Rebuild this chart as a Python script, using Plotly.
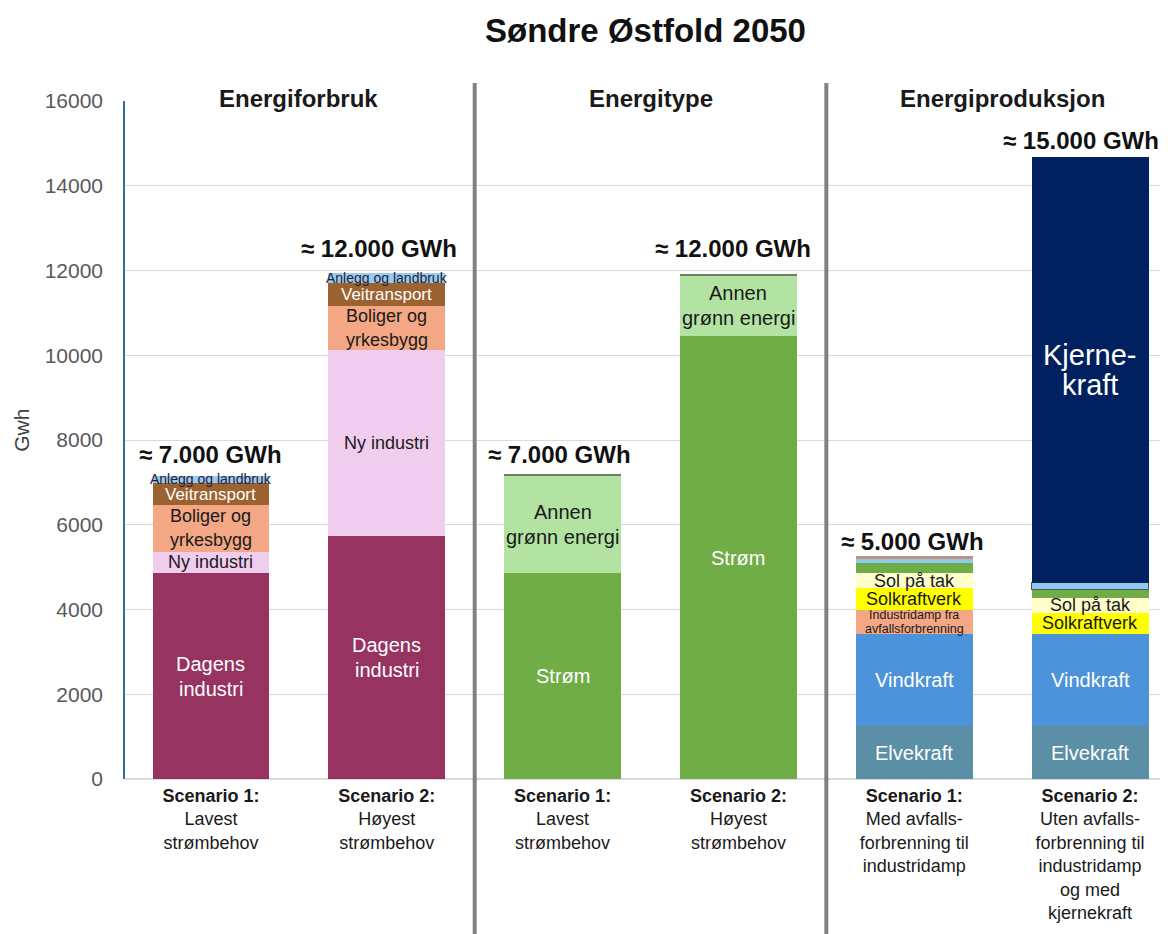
import plotly.graph_objects as go

# ---------------- data ----------------
x_pos = [0, 1, 2, 3, 4, 5]
tick_labels = [
    "<b>Scenario 1:</b><br>Lavest<br>strømbehov",
    "<b>Scenario 2:</b><br>Høyest<br>strømbehov",
    "<b>Scenario 1:</b><br>Lavest<br>strømbehov",
    "<b>Scenario 2:</b><br>Høyest<br>strømbehov",
    "<b>Scenario 1:</b><br>Med avfalls-<br>forbrenning til<br>industridamp",
    "<b>Scenario 2:</b><br>Uten avfalls-<br>forbrenning til<br>industridamp<br>og med<br>kjernekraft",
]
total_labels = ["≈ 7.000 GWh", "≈ 12.000 GWh", "≈ 7.000 GWh",
                "≈ 12.000 GWh", "≈ 5.000 GWh", "≈ 15.000 GWh"]
section_titles = ["Energiforbruk", "Energitype", "Energiproduksjon"]
section_x = [0.5, 2.5, 4.5]
separator_x = [1.5, 3.5]
y_title = "Gwh"

# Energiforbruk
dagens_industri = [4860, 5740, None, None, None, None]
ny_industri     = [500, 4385, None, None, None, None]
boliger         = [1105, 1040, None, None, None, None]
veitransport    = [515, 540, None, None, None, None]
anlegg          = [180, 235, None, None, None, None]
# Energitype
strom           = [None, None, 4860, 10450, None, None]
annen_gronn     = [None, None, 2300, 1440, None, None]
annet_type      = [None, None, 25, 25, None, None]
# Energiproduksjon
elvekraft       = [None, None, None, None, 1250, 1250]
vindkraft       = [None, None, None, None, 2170, 2170]
industridamp    = [None, None, None, None, 570, None]
solkraftverk    = [None, None, None, None, 515, 500]
sol_pa_tak      = [None, None, None, None, 355, 350]
bio             = [None, None, None, None, 235, 190]
annen_prod      = [None, None, None, None, 120, 165]
rest_prod       = [None, None, None, None, 45, None]
kjernekraft     = [None, None, None, None, None, 10050]

# (name, values, color, segment labels, label color, label size, border widths, line gap px)
series = [
    ("Dagens industri", dagens_industri, "#963361",
     ["Dagens<br>industri", "Dagens<br>industri", None, None, None, None], "white", 20, 0, 25),
    ("Ny industri", ny_industri, "#F0CDEE",
     ["Ny industri", "Ny industri", None, None, None, None], "#1a1a1a", 18, 0, None),
    ("Boliger og yrkesbygg", boliger, "#F3A784",
     ["Boliger og<br>yrkesbygg", "Boliger og<br>yrkesbygg", None, None, None, None], "#1a1a1a", 18, 0, 24),
    ("Veitransport", veitransport, "#9C6330",
     ["Veitransport", "Veitransport", None, None, None, None], "white", 17, 0, None),
    ("Anlegg og landbruk", anlegg, "#9DC9EC",
     ["Anlegg og landbruk", "Anlegg og landbruk", None, None, None, None], "#1a2340", 14, 0, None),
    ("Strøm", strom, "#70AD47",
     [None, None, "Strøm", "Strøm", None, None], "white", 20, 0, None),
    ("Annen grønn energi", annen_gronn, "#B3E3A2",
     [None, None, "Annen<br>grønn energi", "Annen<br>grønn energi", None, None], "#1a1a1a", 20, 0, 25),
    ("Annet", annet_type, "#6E7F66",
     [None] * 6, "#1a1a1a", 12, 0, None),
    ("Elvekraft", elvekraft, "#5A8FA6",
     [None, None, None, None, "Elvekraft", "Elvekraft"], "white", 20, 0, None),
    ("Vindkraft", vindkraft, "#4C93DA",
     [None, None, None, None, "Vindkraft", "Vindkraft"], "white", 20, 0, None),
    ("Industridamp fra avfallsforbrenning", industridamp, "#F3A784",
     [None, None, None, None, "Industridamp fra<br>avfallsforbrenning", None], "#1a1a1a", 12.5, 0, 14),
    ("Solkraftverk", solkraftverk, "#FFFF00",
     [None, None, None, None, "Solkraftverk", "Solkraftverk"], "#1a1a1a", 18, 0, None),
    ("Sol på tak", sol_pa_tak, "#FFFFCC",
     [None, None, None, None, "Sol på tak", "Sol på tak"], "#1a1a1a", 18, 0, None),
    ("Bioenergi", bio, "#70AD47", [None] * 6, "#1a1a1a", 12, 0, None),
    ("Annen produksjon", annen_prod, "#8CCBEF", [None] * 6, "#1a1a1a", 12,
     [0, 0, 0, 0, 0, 1.2], None),
    ("Øvrig", rest_prod, "#C4917A", [None] * 6, "#1a1a1a", 12, 0, None),
    ("Kjernekraft", kjernekraft, "#002060",
     [None, None, None, None, None, "Kjerne-<br>kraft"], "white", 29, 0, 30),
]

FONT = "Liberation Sans, Arial, sans-serif"
BAR_W = 0.665

fig = go.Figure()
cum = [0.0] * 6
annotations = []
totals_yshift = [21, 25, 20, 26, 15, 17]
totals_xshift = [0, -8, -3, -5, -2, -9]

for name, vals, color, labs, lcol, lsize, lw, gap in series:
    fig.add_trace(go.Bar(
        x=x_pos, y=vals, name=name, width=BAR_W,
        marker=dict(color=color, line=dict(color="#555555", width=lw)),
        hovertemplate=name + ": %{y}<extra></extra>",
    ))
    for i, v in enumerate(vals):
        if v is None:
            continue
        mid = cum[i] + v / 2
        if labs[i]:
            lines = labs[i].split("<br>") if gap else [labs[i]]
            n = len(lines)
            for k, ln in enumerate(lines):
                shift = ((n - 1) / 2 - k) * gap if gap else 0
                annotations.append(dict(
                    x=x_pos[i], y=mid, text=ln, showarrow=False, yshift=shift,
                    font=dict(family=FONT, size=lsize, color=lcol),
                    xanchor="center", yanchor="middle"))
        cum[i] += v

for i, t in enumerate(total_labels):
    annotations.append(dict(
        x=x_pos[i], y=cum[i], text="<b>" + t + "</b>", showarrow=False,
        font=dict(family=FONT, size=24, color="#111111"),
        xanchor="center", yanchor="middle",
        yshift=totals_yshift[i], xshift=totals_xshift[i]))

for sx, st in zip(section_x, section_titles):
    annotations.append(dict(
        x=sx, y=1.004, xref="x", yref="paper", text="<b>" + st + "</b>",
        showarrow=False, font=dict(family=FONT, size=24, color="#1a1a1a"),
        xanchor="center", yanchor="middle"))

# y-axis title
annotations.append(dict(
    x=-0.099, y=0.515, xref="paper", yref="paper", text=y_title, textangle=-90,
    showarrow=False, font=dict(family=FONT, size=21, color="#404040"),
    xanchor="center", yanchor="middle"))

shapes = [dict(type="line", xref="x", yref="paper", x0=s, x1=s, y0=-0.24, y1=1.0265,
               line=dict(color="#808080", width=4)) for s in separator_x]

fig.update_layout(
    barmode="stack",
    width=1160, height=926,
    margin=dict(l=117, r=2, t=93, b=155),
    paper_bgcolor="white", plot_bgcolor="white",
    showlegend=False,
    font=dict(family=FONT, color="#262626"),
    title=dict(text="<b>Søndre Østfold 2050</b>", x=0.5, xref="paper",
               y=1 - 22 / 926, yanchor="middle",
               font=dict(family=FONT, size=33, color="#111111")),
    annotations=annotations,
    shapes=shapes,
    bargap=0,
)
fig.update_xaxes(
    range=[-0.489, 5.432], tickmode="array", tickvals=x_pos, ticktext=tick_labels,
    tickfont=dict(family=FONT, size=18, color="#1a1a1a"),
    showgrid=False, zeroline=False, showline=False, ticks="", automargin=False,
    ticklabelstandoff=4,
)
fig.update_yaxes(
    range=[0, 16000], tickmode="linear", dtick=2000, tick0=0, tickformat="d",
    tickfont=dict(family=FONT, size=21, color="#595959"),
    showgrid=True, gridcolor="#DADADA", gridwidth=1,
    zeroline=True, zerolinecolor="#DADADA",
    showline=True, linecolor="#2E6DA4", linewidth=1.5,
    ticklabelstandoff=16, automargin=False,
)

fig.write_html("out.html")
